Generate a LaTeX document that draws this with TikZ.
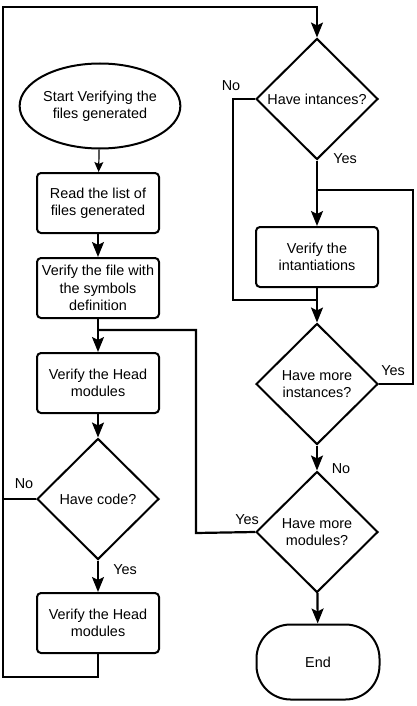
\documentclass[tikz,border=0pt]{standalone}
\usepackage{fontspec}
\setmainfont{Liberation Sans}
\usetikzlibrary{shapes.geometric,arrows.meta}
\tikzset{
  block/.style = {draw, line width=2pt, rounded corners=4pt, minimum width=122pt, minimum height=60pt, inner sep=0pt, align=center},
  test/.style  = {draw, diamond, line width=2pt, minimum width=122pt, minimum height=121pt, inner sep=0pt, align=center},
  term/.style  = {draw, ellipse, line width=2pt, minimum width=134pt, minimum height=85pt, inner sep=0pt, align=center},
  stop/.style  = {draw, line width=2pt, rounded corners=34pt, minimum width=123pt, minimum height=75pt, align=center},
  flow/.style  = {line width=2.2pt, -{Stealth[length=15pt,width=12pt,inset=3pt]}},
  link/.style  = {line width=2.2pt},
  thin/.style  = {line width=1.2pt, -{Stealth[length=10pt,width=9pt,inset=2pt]}},
  lbl/.style   = {inner sep=0pt, anchor=center},
}

\begin{document}
\begin{tikzpicture}[x=1pt,y=-1pt,font=\fontsize{14.4}{17.3}\selectfont]
  \useasboundingbox (0,0) rectangle (416,706);
% left column
  \node[term]  (start) at (100,106) {Start Verifying the\\files generated};
  \node[block] (read)  at (98,203)  {Read the list of\\files generated};
  \node[block] (symb)  at (98,288)  {Verify the file with\\the symbols\\definition};
  \node[block] (head)  at (98,383)  {Verify the Head\\modules};
  \node[test]  (code)  at (98,499)  {Have code?};
  \node[block] (body)  at (98,623)  {Verify the Head\\modules};
% right column
  \node[test]  (inst)  at (317,99)  {Have intances?};
  \node[block] (verif) at (317,257) {Verify the\\intantiations};
  \node[test]  (more)  at (317,384) {Have more\\instances?};
  \node[test]  (mods)  at (317,532) {Have more\\modules?};
  \node[stop]  (end)   at (318,662) {End};
% corners of the lines
  \coordinate (lb) at (3,677);
  \coordinate (lt) at (3,7);
  \coordinate (j1) at (98,330);
  \coordinate (jr) at (196,533);
  \coordinate (nl) at (233,300);
  \coordinate (j2) at (317,190);
  \coordinate (yr) at (413,384);
% connectors
  \draw[thin] (start) -- (read);
  \draw[flow] (read) -- (symb);
  \draw[flow] (symb) -- (head);
  \draw[flow] (head) -- (code);
  \draw[flow] (code) -- (body);
  \draw[link] (code.west) -- (code.west -| lb);
  \draw[flow] (body.south) |- (lb) -- (lt) -| (inst.north);
  \draw[link] (j1) -| (jr) -- (mods.west);
  \draw[flow] (inst) -- (verif);
  \draw[link] (inst.west) -| (nl) -- (nl -| verif);
  \draw[flow] (verif) -- (more);
  \draw[link] (more.east) -| (yr |- j2) -- (j2);
  \draw[flow] (more) -- (mods);
  \draw[flow] (mods) -- (end);
% labels
  \node[lbl] (no1)  at (24,484)  {No};
  \node[lbl] (yes1) at (125,570) {Yes};
  \node[lbl] (no2)  at (231,86)  {No};
  \node[lbl] (yes2) at (345,159) {Yes};
  \node[lbl] (yes3) at (393,371) {Yes};
  \node[lbl] (no3)  at (341,469) {No};
  \node[lbl] (yes4) at (247,520) {Yes};
\end{tikzpicture}
\end{document}
